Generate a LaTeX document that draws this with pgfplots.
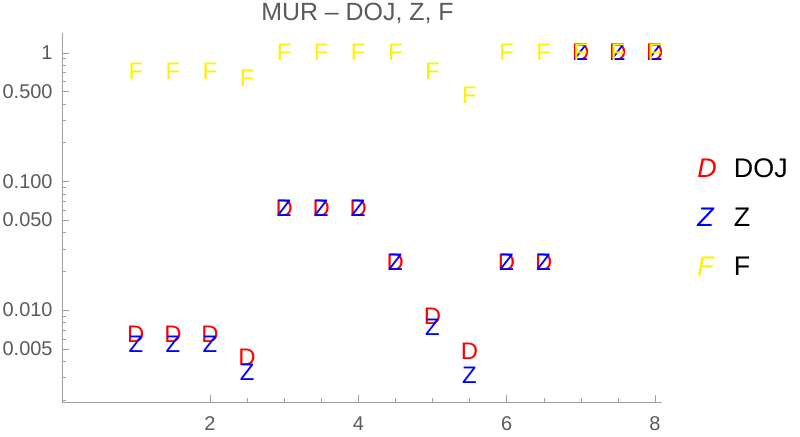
\documentclass[border=0pt]{standalone}
\usepackage{fontspec}
\setmainfont{Liberation Sans}
\usepackage{pgfplots}
\pgfplotsset{compat=1.18}
\definecolor{lbl}{RGB}{90,90,90}
\definecolor{axc}{RGB}{160,160,160}
\newcommand{\fs}[1]{\fontsize{#1}{#1}\selectfont}
\begin{document}
\begin{tikzpicture}
\path[use as bounding box] (0,0) rectangle (800bp,437bp);
\begin{axis}[
  at={(61.7bp,34.7bp)}, anchor=south west,
  scale only axis, width=600.6bp, height=369.3bp,
  ymode=log, xmin=0, xmax=8.1, ymin=0.00192, ymax=1.42,
  axis lines=left, axis line style={axc,-},
  clip=false,
  xtick={2,4,6,8}, xticklabels={2,4,6,8}, minor x tick num=3,
  ytick={0.005,0.01,0.05,0.1,0.5,1},
  yticklabels={0.005,0.010,0.050,0.100,0.500,1},
  minor ytick={0.002,0.003,0.004,0.006,0.007,0.008,0.009,0.02,0.03,0.04,0.06,0.07,0.08,0.09,0.2,0.3,0.4,0.6,0.7,0.8,0.9},
  tick style={axc}, major tick length=7bp, minor tick length=4bp, tick align=inside,
  ticklabel style={font=\fs{20}, text=lbl, inner sep=0},
  xticklabel style={yshift=-14.4bp},
  yticklabel style={xshift=-9bp},
  title={MUR – DOJ, Z, F},
  title style={font=\fs{25}, text=lbl, anchor=base, inner sep=0, yshift=6.3bp, xshift=-4.5bp},
  legend style={at={(1,0.5)}, anchor=west, xshift=35bp, draw=none, fill=none, inner sep=0,
    font=\fs{27}, row sep=29bp, column sep=17bp, nodes={inner sep=0}},
  legend cell align=left,
]
\addplot[only marks, color=red, mark=text, text mark={D}, text mark as node=true,
  text mark style={font=\fs{24}, inner sep=0},
  legend image code/.code={\node[text=red, font=\fs{27}\itshape, inner sep=0] at (0cm,0cm) {D};}]
  coordinates {(1,0.0065) (1.5,0.0065) (2,0.0065) (2.5,0.0043) (3,0.062) (3.5,0.062) (4,0.062)
  (4.5,0.0235) (5,0.009) (5.5,0.0048) (6,0.0235) (6.5,0.0235) (7,1) (7.5,1) (8,1)};
\addlegendentry{DOJ}
\addplot[only marks, color=blue, mark=text, text mark={Z}, text mark as node=true,
  text mark style={font=\fs{24}, inner sep=0},
  legend image code/.code={\node[text=blue, font=\fs{27}\itshape, inner sep=0] at (0cm,0cm) {Z};}]
  coordinates {(1,0.0054) (1.5,0.0054) (2,0.0054) (2.5,0.0033) (3,0.062) (3.5,0.062) (4,0.062)
  (4.5,0.0235) (5,0.0074) (5.5,0.0031) (6,0.0235) (6.5,0.0235) (7,1) (7.5,1) (8,1)};
\addlegendentry{Z}
\addplot[only marks, color=yellow, mark=text, text mark={F}, text mark as node=true,
  text mark style={font=\fs{24}, inner sep=0},
  legend image code/.code={\node[text=yellow, font=\fs{27}\itshape, inner sep=0] at (0cm,0cm) {F};}]
  coordinates {(1,0.72) (1.5,0.72) (2,0.72) (2.5,0.635) (3,1) (3.5,1) (4,1)
  (4.5,1) (5,0.72) (5.5,0.47) (6,1) (6.5,1) (7,1) (7.5,1) (8,1)};
\addlegendentry{F}
\end{axis}
\end{tikzpicture}
\end{document}
